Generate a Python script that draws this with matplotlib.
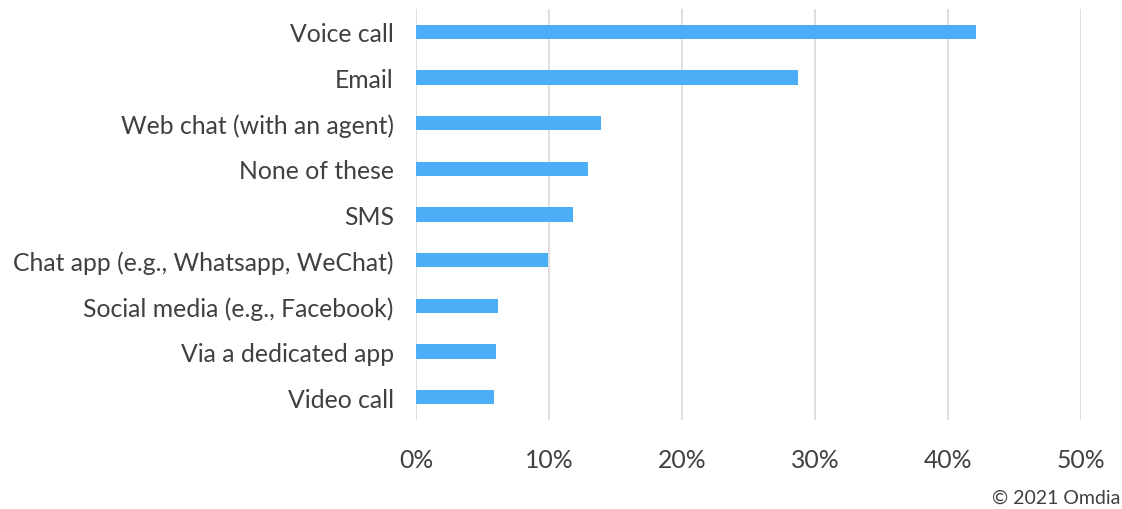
import matplotlib.pyplot as plt
from matplotlib.ticker import FuncFormatter

categories = [
    'Voice call',
    'Email',
    'Web chat (with an agent)',
    'None of these',
    'SMS',
    'Chat app (e.g., Whatsapp, WeChat)',
    'Social media (e.g., Facebook)',
    'Via a dedicated app',
    'Video call',
]
shares = [42.1, 28.7, 13.9, 12.9, 11.8, 9.9, 6.2, 6.05, 5.9]
x_ticks = [0, 10, 20, 30, 40, 50]

plt.rcParams['font.family'] = ['Lato', 'DejaVu Sans']

fig = plt.figure(figsize=(11.22, 5.10), dpi=100)
ax = fig.add_axes([416 / 1122, 1 - 421 / 510, 665 / 1122, 411 / 510])

y_pos = list(range(len(categories)))
ax.barh(y_pos, shares, height=0.31, color='#4BAEF7', zorder=3)

ax.set_xlim(0, 50)
ax.set_ylim(len(categories) - 0.5, -0.5)
ax.set_xticks(x_ticks)
ax.xaxis.set_major_formatter(FuncFormatter(lambda v, _: f'{int(v)}%'))
ax.set_yticks(y_pos)
ax.set_yticklabels(categories)

ax.tick_params(axis='both', length=0, labelsize=17.8, colors='#404040')
ax.tick_params(axis='x', pad=20)
ax.tick_params(axis='y', pad=16)

ax.grid(axis='x', color='#D9D9D9', linewidth=1.2, zorder=0)
for s in ax.spines.values():
    s.set_visible(False)

fig.text(1120 / 1122, 1 - 498 / 510, '\u00a9 2021 Omdia', ha='right', va='center',
         fontsize=14, color='#404040')

fig.savefig('out.png', dpi=100)
